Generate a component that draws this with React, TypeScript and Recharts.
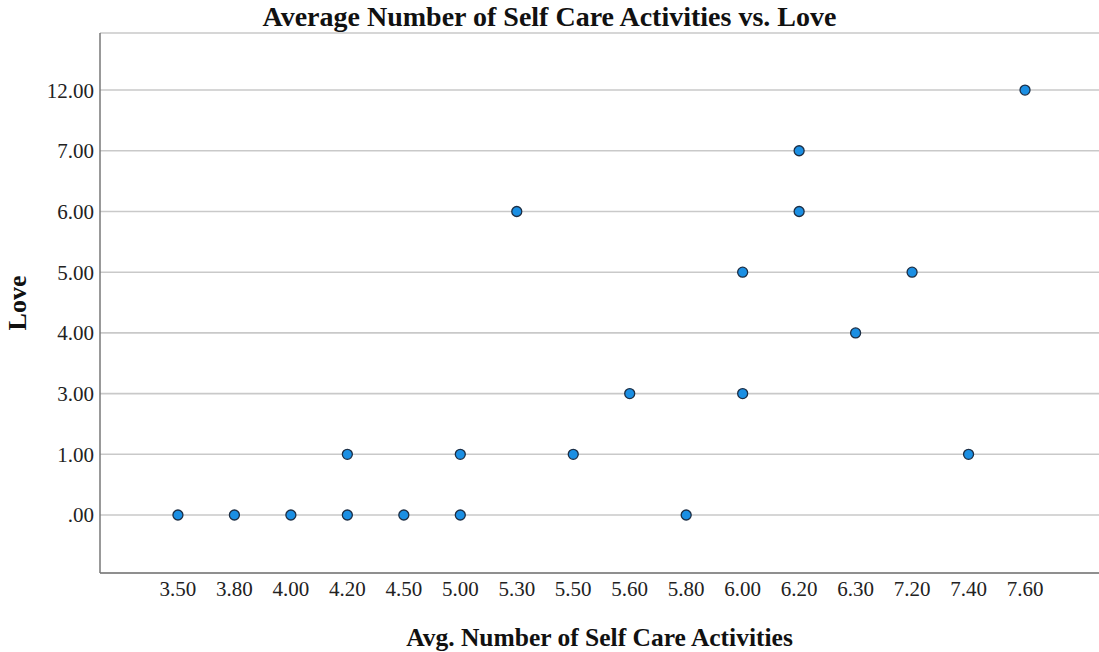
import { ScatterChart, Scatter, XAxis, YAxis, CartesianGrid, Label } from "recharts"

// category labels as they appear on the axes
const xCategories = ["3.50", "3.80", "4.00", "4.20", "4.50", "5.00", "5.30", "5.50", "5.60", "5.80", "6.00", "6.20", "6.30", "7.20", "7.40", "7.60"]
const yCategories = [".00", "1.00", "3.00", "4.00", "5.00", "6.00", "7.00", "12.00"]

// observed (self care, love) pairs
const selfCare = ["3.50", "3.80", "4.00", "4.20", "4.50", "5.00", "5.80", "4.20", "5.00", "5.50", "7.40", "5.60", "6.00", "6.30", "6.00", "7.20", "5.30", "6.20", "6.20", "7.60"]
const love = [".00", ".00", ".00", ".00", ".00", ".00", ".00", "1.00", "1.00", "1.00", "1.00", "3.00", "3.00", "4.00", "5.00", "5.00", "6.00", "6.00", "7.00", "12.00"]

const points = selfCare.map((x, i) => ({
  x: xCategories.indexOf(x),
  y: yCategories.indexOf(love[i]),
}))

const FONT = "'Liberation Serif', 'Times New Roman', serif"

const Dot = (props: any) => {
  const { cx, cy } = props
  return <circle cx={cx} cy={cy} r={5} fill="#1b8fe3" stroke="#1d2e44" strokeWidth={1.3} />
}

export default function App() {
  return (
    <div style={{ position: "absolute", left: 0, top: 0, width: 1099, height: 652, background: "#fff", fontFamily: FONT }}>
      <div
        style={{
          position: "absolute",
          left: 0,
          top: 0,
          width: 1099,
          textAlign: "center",
          fontWeight: "bold",
          fontSize: 28,
          lineHeight: "34px",
          color: "#111",
        }}
      >
        Average Number of Self Care Activities vs. Love
      </div>
      <ScatterChart width={1099} height={652} margin={{ top: 33, right: 0, bottom: 0, left: 0 }}>
        <CartesianGrid vertical={false} stroke="#c9c9c9" strokeWidth={1.6} />
        <XAxis
          type="number"
          dataKey="x"
          domain={[-1.38, 16.31]}
          ticks={xCategories.map((_, i) => i)}
          tickFormatter={(v) => xCategories[v]}
          allowDataOverflow
          height={79}
          tickLine={false}
          tickSize={0}
          tickMargin={8}
          axisLine={{ stroke: "#777", strokeWidth: 1.5 }}
          tick={{ fill: "#222", fontSize: 21, fontFamily: FONT }}
        >
          <Label
            value="Avg. Number of Self Care Activities"
            position="insideBottom"
            offset={6}
            style={{ fontWeight: "bold", fontSize: 25.5, fill: "#111", fontFamily: FONT }}
          />
        </XAxis>
        <YAxis
          type="number"
          dataKey="y"
          domain={[-0.955, 7.94]}
          ticks={yCategories.map((_, i) => i)}
          tickFormatter={(v) => yCategories[v]}
          allowDataOverflow
          width={100}
          tickLine={false}
          tickSize={0}
          tickMargin={6}
          axisLine={{ stroke: "#777", strokeWidth: 1.5 }}
          tick={{ fill: "#222", fontSize: 21, fontFamily: FONT }}
        >
          <Label
            value="Love"
            angle={-90}
            position="insideLeft"
            offset={17}
            style={{ fontWeight: "bold", fontSize: 26, fill: "#111", fontFamily: FONT, textAnchor: "middle" }}
          />
        </YAxis>
        <Scatter data={points} shape={Dot} isAnimationActive={false} />
      </ScatterChart>
    </div>
  )
}
